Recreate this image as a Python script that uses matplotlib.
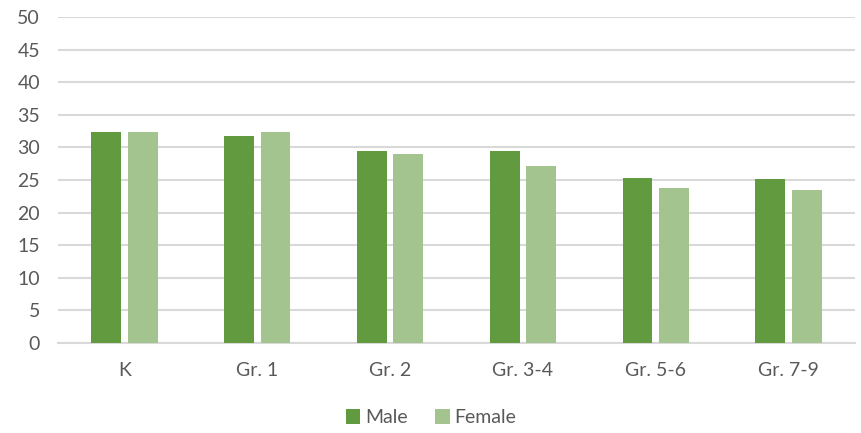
import matplotlib
matplotlib.use("Agg")
import matplotlib.pyplot as plt
import numpy as np

categories = ["K", "Gr. 1", "Gr. 2", "Gr. 3-4", "Gr. 5-6", "Gr. 7-9"]
male = [32.3, 31.7, 29.5, 29.5, 25.3, 25.1]
female = [32.3, 32.3, 29.0, 27.1, 23.7, 23.4]
yticks = [0, 5, 10, 15, 20, 25, 30, 35, 40, 45, 50]

plt.rcParams['font.family'] = ['Lato', 'DejaVu Sans']

fig = plt.figure(figsize=(8.62, 4.33), dpi=100)
ax = fig.add_axes([58/862, 1-343/433, 797/862, 326/433])

x = np.arange(len(categories))
w = 0.225
gap = 0.05
ax.bar(x - (w+gap)/2, male, width=w, color="#629B3F", label="Male", zorder=3)
ax.bar(x + (w+gap)/2, female, width=w, color="#A3C48F", label="Female", zorder=3)

ax.set_xlim(-0.5, len(categories)-0.5)
ax.set_ylim(0, 50)
ax.set_yticks(yticks)
ax.set_xticks(x)
ax.set_xticklabels(categories)
ax.grid(axis='y', color="#d9d9d9", linewidth=1.5, zorder=0)
for s in ["top", "right", "left"]:
    ax.spines[s].set_visible(False)
ax.spines["bottom"].set_color("#d9d9d9")
ax.spines["bottom"].set_linewidth(1.5)
ax.tick_params(axis='both', length=0, labelcolor="#595959", labelsize=14)
ax.tick_params(axis='y', pad=13)
ax.tick_params(axis='x', pad=14)

fig.legend(loc="lower center", bbox_to_anchor=(0.5, -0.025), ncol=2, frameon=False,
           fontsize=14, handlelength=0.75, handleheight=0.75, columnspacing=1.4,
           handletextpad=0.25, labelcolor="#595959")

fig.savefig("out.png", dpi=100)
